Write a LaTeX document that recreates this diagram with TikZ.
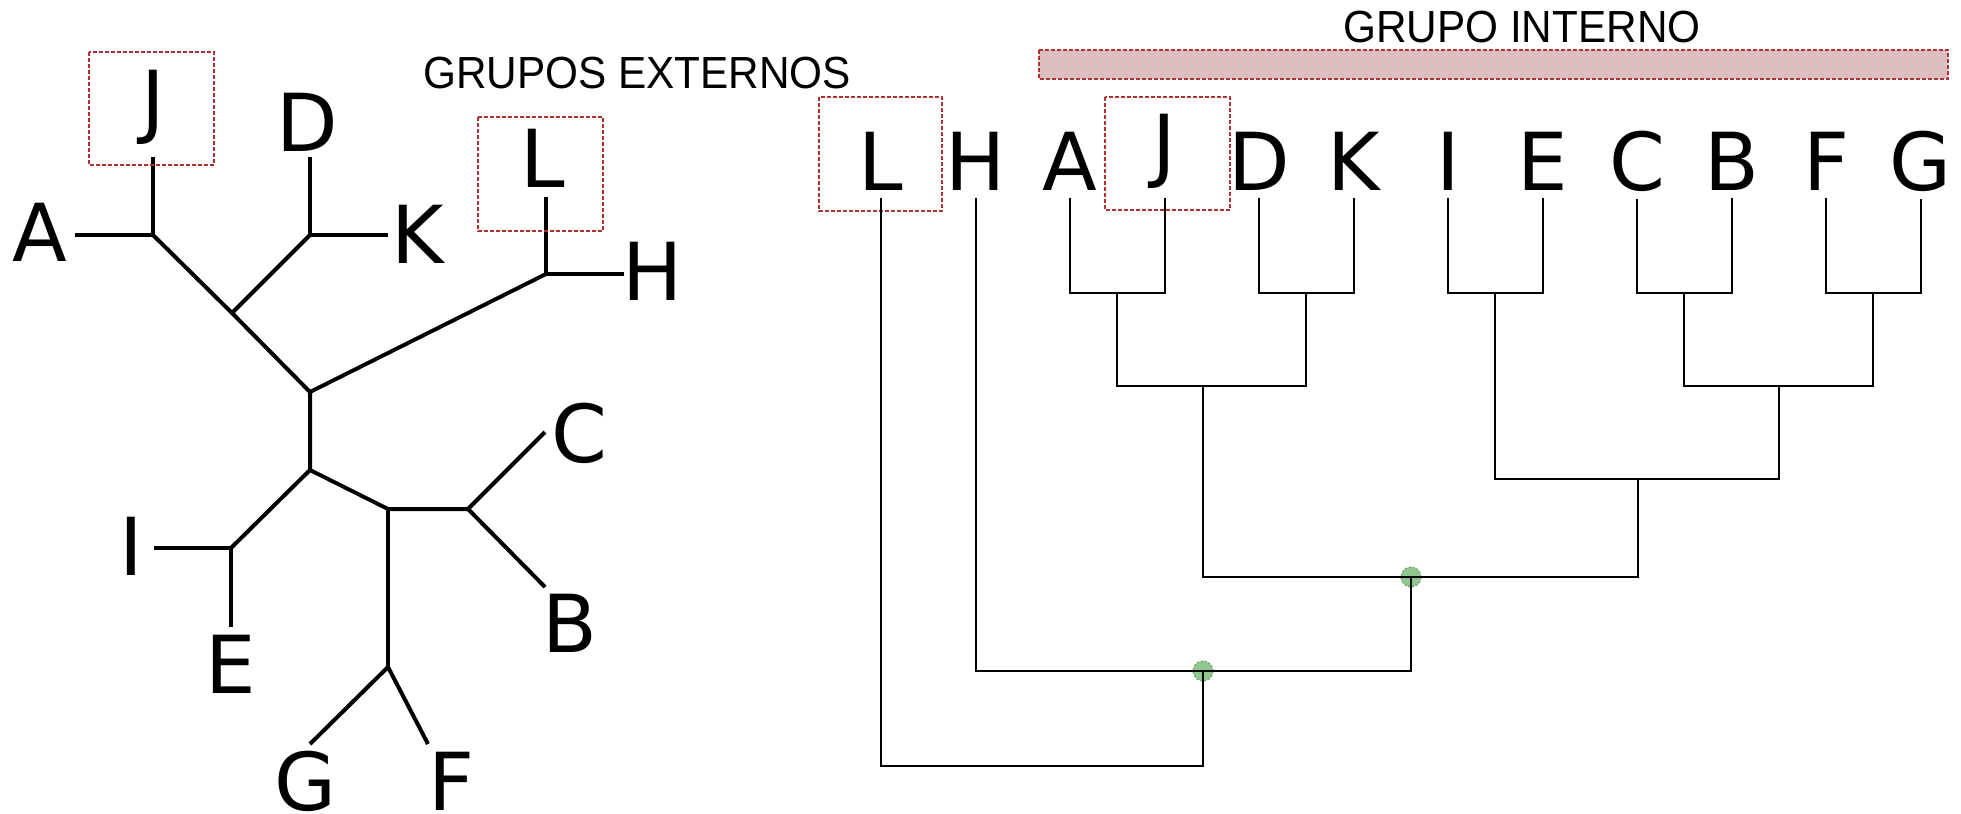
\documentclass[tikz,border=0pt]{standalone}
\usepackage{fontspec}
\usepackage{xcolor}
\usepackage{tikz}
\newfontfamily\leaffont{DejaVu Sans}
\newfontfamily\groupfont[FakeStretch=0.94]{Liberation Sans}
\definecolor{boxred}{RGB}{175,50,50}
\definecolor{barfill}{RGB}{221,191,193}
\definecolor{dotfill}{RGB}{143,199,143}
\definecolor{dotline}{RGB}{105,165,105}

\begin{document}
\begin{tikzpicture}[
  x=0.5pt, y=-0.5pt,
  leaf/.style={font=\leaffont\fontsize{40}{48}\selectfont, inner sep=0pt},
  grp/.style={font=\groupfont\fontsize{22.5}{27}\selectfont, inner sep=0pt},
  uline/.style={line width=2pt},
  rline/.style={line width=1pt},
  hlbox/.style={draw=boxred, line width=0.6pt, dash pattern=on 2pt off 1pt},
  knot/.style={circle, fill=dotfill, draw=dotline, line width=0.6pt,
               dash pattern=on 1pt off 1pt, minimum size=10pt, inner sep=0pt}
]
\useasboundingbox (0,0) rectangle (1961,814);

% Unrooted tree: labels
\node[leaf] (uA) at (40,232) {A};
\node[leaf] (uJ) at (153,107.5) {J};
\node[leaf] (uD) at (307,122) {D};
\node[leaf] (uK) at (418,234) {K};
\node[leaf] (uL) at (543,158) {L};
\node[leaf] (uH) at (653,271) {H};
\node[leaf] (uI) at (131,546) {I};
\node[leaf] (uE) at (231,664) {E};
\node[leaf] (uC) at (579,433) {C};
\node[leaf] (uB) at (570,623) {B};
\node[leaf] (uG) at (305,781) {G};
\node[leaf] (uF) at (452,781) {F};

% Unrooted tree: branch points and tips
\coordinate (uAJ) at (153,235);
\coordinate (uAend) at (75,235);
\coordinate (uJend) at (153,157);
\coordinate (uDK) at (310,235);
\coordinate (uDend) at (310,157);
\coordinate (uKend) at (388,235);
\coordinate (uX) at (232,313);
\coordinate (uR) at (310,392);
\coordinate (uLH) at (546,274);
\coordinate (uLend) at (546,197);
\coordinate (uHend) at (624,274);
\coordinate (uN1) at (310,470);
\coordinate (uIE) at (231,548);
\coordinate (uIend) at (154,548);
\coordinate (uEend) at (231,627);
\coordinate (uN2) at (388,509);
\coordinate (uCB) at (468,509);
\coordinate (uCend) at (545,432);
\coordinate (uBend) at (545,587);
\coordinate (uGF) at (388,667);
\coordinate (uGend) at (310,744);
\coordinate (uFend) at (428,744);

% Unrooted tree: branches
\draw[uline] (uAend) -- (uAJ) -- (uJend);
\draw[uline] (uAJ) -- (uX) -- (uR);
\draw[uline] (uDend) -- (uDK) -- (uKend);
\draw[uline] (uDK) -- (uX);
\draw[uline] (uR) -- (uLH);
\draw[uline] (uLend) -- (uLH) -- (uHend);
\draw[uline] (uR) -- (uN1) -- (uIE);
\draw[uline] (uIend) -- (uIE) -- (uEend);
\draw[uline] (uN1) -- (uN2) -- (uCB);
\draw[uline] (uCend) -- (uCB) -- (uBend);
\draw[uline] (uN2) -- (uGF);
\draw[uline] (uGend) -- (uGF) -- (uFend);

% Highlight boxes (left)
\draw[hlbox] (89,52) rectangle (214,165);
\draw[hlbox] (478,117) rectangle (603,231);

% Group labels
\node[grp] (ext) at (637,73.5) {GRUPOS EXTERNOS};
\node[grp] (int) at (1522,27) {GRUPO INTERNO};
\draw[hlbox, fill=barfill] (1039,50) rectangle (1948,79);

% Rooted tree: labels
\node[leaf] (rL) at (881,161) {L};
\node[leaf] (rH) at (975.5,161) {H};
\node[leaf] (rA) at (1070,161) {A};
\node[leaf] (rJ) at (1164.5,151.5) {J};
\node[leaf] (rD) at (1259,161) {D};
\node[leaf] (rK) at (1353.5,161) {K};
\node[leaf] (rI) at (1448,161) {I};
\node[leaf] (rE) at (1542.5,161) {E};
\node[leaf] (rC) at (1637,161) {C};
\node[leaf] (rB) at (1731.5,161) {B};
\node[leaf] (rF) at (1826,161) {F};
\node[leaf] (rG) at (1920.5,161) {G};

% Highlight boxes (right)
\draw[hlbox] (819,97) rectangle (942,211);
\draw[hlbox] (1105,97) rectangle (1230,210);

% Rooted tree: joins
\coordinate (jAJ) at (1117.25,292.5);
\coordinate (jDK) at (1306.25,292.5);
\coordinate (jIE) at (1495.25,292.5);
\coordinate (jCB) at (1684.25,292.5);
\coordinate (jFG) at (1873.25,292.5);
\coordinate (jAJDK) at (1203,386);
\coordinate (jCBFG) at (1778.75,386);
\coordinate (jICF) at (1637.5,479);
\coordinate (jIN) at (1411,577);
\coordinate (jH) at (1203,671);
\coordinate (root) at (1203,766);

% Node markers
\node[knot] (kIN) at (jIN) {};
\node[knot] (kH) at (jH) {};

% Rooted tree: branches
\draw[rline] ([yshift=-3.5pt]rA.south) |- (jAJ) -| ([yshift=-4.5pt]rJ.south);
\draw[rline] ([yshift=-3.5pt]rD.south) |- (jDK) -| ([yshift=-3.5pt]rK.south);
\draw[rline] ([yshift=-3.5pt]rI.south) |- (jIE) -| ([yshift=-3.5pt]rE.south);
\draw[rline] ([yshift=-3.5pt]rC.south) |- (jCB) -| ([yshift=-3.5pt]rB.south);
\draw[rline] ([yshift=-3.5pt]rF.south) |- (jFG) -| ([yshift=-3.5pt]rG.south);
\draw[rline] (jAJ) |- (jAJDK) -| (jDK);
\draw[rline] (jCB) |- (jCBFG) -| (jFG);
\draw[rline] (jIE) |- (jICF) -| (jCBFG);
\draw[rline] (jAJDK) |- (jIN) -| (jICF);
\draw[rline] ([yshift=-3.5pt]rH.south) |- (jH) -| (jIN);
\draw[rline] ([yshift=-3.5pt]rL.south) |- (root) -- (jH);
\end{tikzpicture}
\end{document}
